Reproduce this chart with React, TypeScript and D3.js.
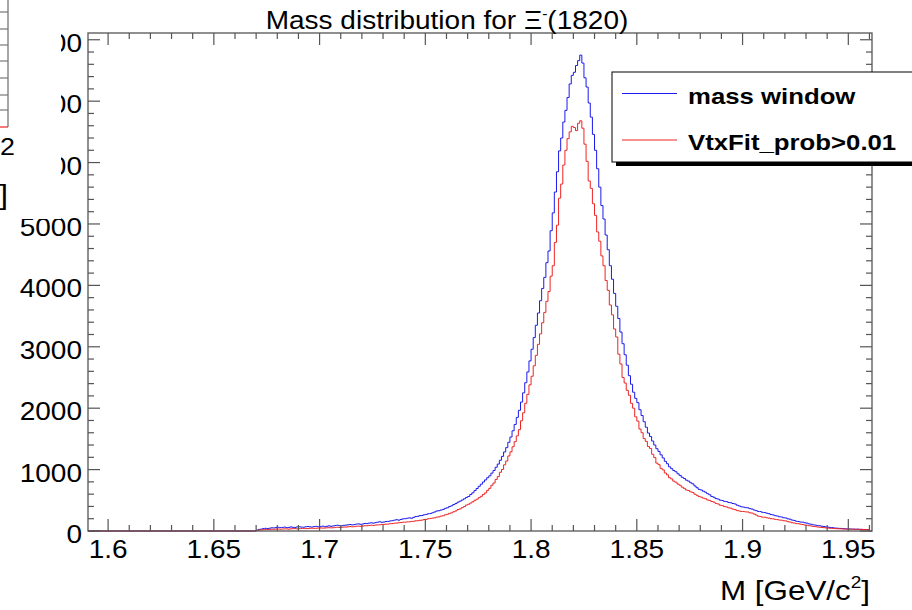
import React from 'react';
import * as d3 from 'd3';

const W = 912;
const H = 610;

const titleText = 'Mass distribution for ';
const titleParticle = 'Ξ';
const titleCharge = '-';
const titleMass = '(1820)';
const xAxisTitle = 'M [GeV/c';
const seriesNames = ['mass window', 'VtxFit_prob>0.01'];
const seriesColors = ['#1a1aee', '#ee2424'];

const xTickValues = [1.6, 1.65, 1.7, 1.75, 1.8, 1.85, 1.9, 1.95];
const xTickLabels = ['1.6', '1.65', '1.7', '1.75', '1.8', '1.85', '1.9', '1.95'];
const yTickValues = [0, 1000, 2000, 3000, 4000, 5000, 6000, 7000, 8000];
const yTickLabels = ['0', '1000', '2000', '3000', '4000', '5000', '6000', '7000', '8000'];

const BIN_START = 1.67;
const BIN_WIDTH = 0.001;

// "mass window" counts per 0.001 bin, from 1.670 to 1.960
const blueCounts = [
  14, 26, 31, 39, 44, 40, 46, 52, 50, 58, 61, 55, 58, 64, 55, 59, 66, 60, 58, 67,
  69, 63, 62, 68, 73, 67, 64, 72, 76, 69, 71, 79, 70, 77, 84, 76, 82, 90, 94, 86,
  84, 92, 95, 101, 106, 99, 104, 112, 116, 109, 114, 123, 120, 128, 134, 127, 136, 144, 150, 142,
  146, 155, 156, 164, 168, 177, 184, 176, 187, 198, 200, 208, 214, 207, 222, 235, 239, 250, 252, 264,
  270, 281, 284, 297, 310, 326, 330, 341, 351, 369, 379, 398, 410, 431, 447, 469, 486, 505, 524, 547,
  562, 594, 622, 658, 692, 728, 762, 798, 832, 868, 898, 943, 985, 1038, 1090, 1152, 1215, 1287, 1358, 1445,
  1530, 1632, 1735, 1850, 1965, 2100, 2250, 2415, 2590, 2770, 2960, 3150, 3350, 3550, 3750, 3950, 4130, 4370, 4560, 4890,
  5180, 5520, 5850, 6190, 6400, 6660, 6850, 7060, 7280, 7420, 7470, 7580, 7660, 7750, 7620, 7380, 7230, 6970, 6740, 6460,
  6200, 5900, 5600, 5300, 5080, 4820, 4580, 4320, 4100, 3870, 3660, 3460, 3240, 3050, 2870, 2700, 2530, 2390, 2260, 2160,
  2090, 1975, 1880, 1780, 1690, 1595, 1540, 1465, 1400, 1340, 1295, 1240, 1190, 1135, 1095, 1045, 1015, 985, 965, 932,
  905, 875, 855, 828, 812, 786, 768, 734, 705, 678, 668, 648, 632, 608, 590, 562, 550, 528, 520, 502,
  496, 482, 478, 465, 460, 448, 440, 420, 408, 394, 390, 380, 378, 364, 358, 342, 332, 318, 316, 304,
  300, 290, 282, 268, 262, 249, 244, 232, 228, 216, 212, 198, 192, 178, 172, 159, 154, 146, 144, 134,
  128, 116, 110, 100, 96, 88, 85, 78, 74, 66, 63, 57, 55, 49, 47, 43, 42, 38, 37, 34,
  33, 31, 31, 29, 29, 27, 26, 24, 23, 21,
];

// "VtxFit_prob>0.01" counts per 0.001 bin, from 1.670 to 1.960
const redCounts = [
  8, 16, 18, 22, 25, 23, 26, 29, 28, 32, 33, 29, 31, 35, 34, 30, 35, 38, 39, 35,
  37, 40, 42, 38, 40, 44, 46, 43, 44, 48, 50, 47, 48, 52, 54, 51, 53, 59, 61, 57,
  60, 64, 64, 68, 72, 68, 71, 77, 80, 76, 81, 85, 86, 90, 95, 89, 96, 100, 101, 107,
  108, 112, 113, 119, 121, 127, 129, 135, 137, 143, 144, 148, 149, 155, 158, 166, 167, 174, 177, 187,
  190, 200, 203, 210, 214, 226, 230, 242, 248, 264, 272, 288, 296, 314, 327, 349, 360, 380, 398, 422,
  436, 455, 476, 500, 518, 543, 565, 596, 620, 662, 695, 746, 782, 840, 885, 956, 1002, 1078, 1140, 1222,
  1290, 1372, 1455, 1550, 1650, 1795, 1925, 2080, 2225, 2380, 2520, 2690, 2860, 3040, 3210, 3390, 3560, 3740, 3900, 4150,
  4320, 4700, 4980, 5420, 5650, 5960, 6200, 6390, 6500, 6590, 6570, 6520, 6640, 6680, 6560, 6300, 6020, 5700, 5580, 5330,
  5140, 4870, 4720, 4480, 4320, 4080, 3920, 3680, 3520, 3290, 3160, 2880, 2720, 2500, 2410, 2290, 2210, 2080, 2000, 1860,
  1790, 1660, 1600, 1505, 1460, 1375, 1345, 1250, 1195, 1105, 1080, 1020, 995, 945, 915, 868, 848, 812, 795, 764,
  745, 714, 694, 668, 660, 638, 628, 600, 582, 560, 552, 535, 525, 505, 498, 480, 470, 450, 440, 420,
  414, 398, 392, 378, 372, 356, 348, 332, 326, 318, 318, 311, 310, 296, 292, 276, 260, 242, 236, 225,
  224, 215, 210, 200, 198, 190, 186, 178, 176, 167, 164, 151, 146, 134, 130, 121, 118, 111, 106, 97,
  94, 86, 82, 74, 71, 65, 62, 57, 54, 50, 48, 44, 42, 39, 38, 36, 35, 33, 32, 30,
  31, 29, 29, 27, 28, 26, 26, 24, 23, 21,
];

const FONT = '"Liberation Sans", Arial, Helvetica, sans-serif';
const SX = 1.12;

function T(props: {
  x: number; y: number; size: number; anchor?: string; weight?: string; children: React.ReactNode;
}) {
  const { x, y, size, anchor = 'start', weight = 'normal', children } = props;
  return (
    <text
      transform={`translate(${x},${y}) scale(${SX},1)`}
      fontSize={size}
      fontFamily={FONT}
      fontWeight={weight}
      textAnchor={anchor}
      fill="#000"
    >
      {children}
    </text>
  );
}

export default function App() {
  const x = d3.scaleLinear().domain([1.5905, 1.9612]).range([88, 872]);
  const y = d3.scaleLinear().domain([0, 8110]).range([531, 33]);
  const [x0, x1] = x.range();
  const [yb, yt] = y.range();

  const histPath = (counts: number[]) => {
    const pts: [number, number][] = [[x.domain()[0], 0]];
    counts.forEach((c, i) => pts.push([BIN_START + i * BIN_WIDTH, c]));
    pts.push([BIN_START + counts.length * BIN_WIDTH, counts[counts.length - 1]]);
    return d3
      .line<[number, number]>()
      .x((d) => x(d[0]))
      .y((d) => y(d[1]))
      .curve(d3.curveStepAfter)(pts) as string;
  };

  const xMinor = d3.range(159, 197).map((v) => v / 100).filter((v) => v >= x.domain()[0] && v <= x.domain()[1]);
  const yMinor = d3.range(0, 8101, 200);
  const frameColor = '#555';

  return (
    <svg
      width={W}
      height={H}
      style={{ position: 'absolute', left: 0, top: 0, background: '#fff' }}
    >
      <rect x={0} y={0} width={W} height={H} fill="#fff" />

      {/* histograms */}
      <path d={histPath(blueCounts)} fill="none" stroke={seriesColors[0]} strokeWidth={1} />
      <path d={histPath(redCounts)} fill="none" stroke={seriesColors[1]} strokeWidth={1} />

      {/* frame */}
      <rect x={x0} y={yt} width={x1 - x0} height={yb - yt} fill="none" stroke={frameColor} strokeWidth={1.3} />

      {/* x ticks bottom & top */}
      {xMinor.map((v, i) => {
        const major = xTickValues.some((m) => Math.abs(m - v) < 1e-6);
        const len = major ? 12 : 6;
        return (
          <g key={'xm' + i} stroke={frameColor} strokeWidth={1.2}>
            <line x1={x(v)} x2={x(v)} y1={yb} y2={yb - len} />
            <line x1={x(v)} x2={x(v)} y1={yt} y2={yt + len} />
          </g>
        );
      })}
      {/* y ticks left & right */}
      {yMinor.map((v, i) => {
        const major = v % 1000 === 0;
        const len = major ? 12 : 6;
        return (
          <g key={'ym' + i} stroke={frameColor} strokeWidth={1.2}>
            <line x1={x0} x2={x0 + len} y1={y(v)} y2={y(v)} />
            <line x1={x1} x2={x1 - len} y1={y(v)} y2={y(v)} />
          </g>
        );
      })}

      {/* x labels */}
      {xTickValues.map((v, i) => (
        <T key={'xl' + i} x={x(v)} y={yb + 27} size={25} anchor="middle">
          {xTickLabels[i]}
        </T>
      ))}
      {/* y labels */}
      {yTickValues.map((v, i) => (
        <T key={'yl' + i} x={82} y={y(v) + 12} size={25} anchor="end">
          {yTickLabels[i]}
        </T>
      ))}

      {/* x axis title */}
      <T x={870} y={600} size={28} anchor="end">
        {xAxisTitle}
        <tspan fontSize={17} dy={-12}>2</tspan>
        <tspan dy={12}>]</tspan>
      </T>

      {/* title */}
      <T x={447} y={29} size={25} anchor="middle">
        {titleText}
        {titleParticle}
        <tspan fontSize={14} dy={-10}>{titleCharge}</tspan>
        <tspan dy={10}>{titleMass}</tspan>
      </T>

      {/* legend */}
      <rect x={616} y={76} width={320} height={90} fill="#000" />
      <rect x={612} y={72} width={320} height={90} fill="#fff" stroke="#000" strokeWidth={1} />
      <line x1={622} x2={677} y1={93.5} y2={93.5} stroke={seriesColors[0]} strokeWidth={1} />
      <line x1={622} x2={677} y1={140} y2={140} stroke={seriesColors[1]} strokeWidth={1} />
      <T x={688} y={104} size={23} weight="bold">{seriesNames[0]}</T>
      <T x={688} y={150} size={23} weight="bold">{seriesNames[1]}</T>

      {/* fragment of a neighbouring picture at the top-left corner */}
      <rect x={0} y={0} width={61} height={219} fill="#fff" />
      <line x1={8} x2={8} y1={0} y2={127} stroke="#777" strokeWidth={1.3} />
      {[12, 29, 45, 61, 78, 95, 110].map((ty, i) => (
        <line key={'fr' + i} x1={0} x2={8} y1={ty} y2={ty} stroke="#777" strokeWidth={1.2} />
      ))}
      <line x1={0} x2={8} y1={127} y2={127} stroke="#ee2020" strokeWidth={1.2} />
      <T x={15} y={155} size={24} anchor="end">2</T>
      <T x={8} y={204} size={28} anchor="end">]</T>
    </svg>
  );
}
